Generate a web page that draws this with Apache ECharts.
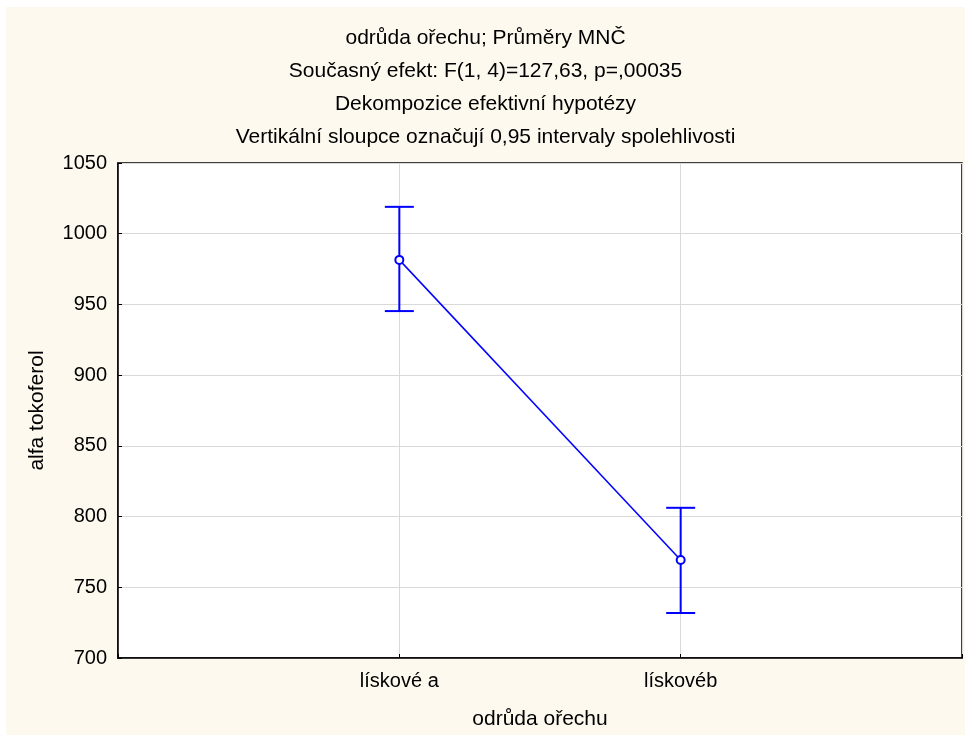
<!DOCTYPE html>
<html>
<head>
<meta charset="utf-8">
<script src="https://cdn.jsdelivr.net/npm/echarts@6/dist/echarts.min.js"></script>
<style>
html,body{margin:0;padding:0;background:#ffffff;}
#main{width:971px;height:742px;}
</style>
</head>
<body>
<div id="main"></div>
<script>
var categories = ['', 'lískové a', 'lískovéb', ''];
var means = [null, 981.5, 769.3, null];
var lower = [null, 945.3, 731.8, null];
var upper = [null, 1019.0, 806.2, null];
var yTicks = [700, 750, 800, 850, 900, 950, 1000, 1050];

var titleLines = [
  'odrůda ořechu; Průměry MNČ',
  'Současný efekt: F(1, 4)=127,63, p=,00035',
  'Dekompozice efektivní hypotézy',
  'Vertikální sloupce označují 0,95 intervaly spolehlivosti'
];

var errData = [];
for (var i = 0; i < categories.length; i++) {
  if (means[i] != null) errData.push([i, lower[i], upper[i]]);
}

var chart = echarts.init(document.getElementById('main'), null, {renderer: 'canvas'});
var font = 'Liberation Sans, Arial, sans-serif';
var blue = '#0000ff';

chart.setOption({
  animation: false,
  backgroundColor: '#ffffff',
  graphic: [
    {type: 'rect', z: -10, silent: true, shape: {x: 6, y: 7, width: 959, height: 728}, style: {fill: '#fdf9ef'}}
  ],
  title: {
    text: titleLines.join('\n'),
    left: 'center',
    top: 17,
    textStyle: {fontFamily: font, fontSize: 21, fontWeight: 'normal', color: '#000', lineHeight: 33}
  },
  grid: {
    left: 118, right: 9, top: 163, bottom: 84,
    show: true, backgroundColor: '#ffffff', borderColor: '#000', borderWidth: 1.5
  },
  xAxis: {
    type: 'category',
    data: categories,
    boundaryGap: false,
    name: 'odrůda ořechu',
    nameLocation: 'middle',
    nameGap: 51,
    nameTextStyle: {fontFamily: font, fontSize: 21, color: '#000'},
    axisLine: {lineStyle: {color: '#000', width: 1.5}},
    axisTick: {show: true, inside: true, length: 4, lineStyle: {color: '#000'}, alignWithLabel: true},
    axisLabel: {fontFamily: font, fontSize: 20, color: '#000', margin: 13, interval: 0},
    splitLine: {show: true, lineStyle: {color: '#d9d9d9', width: 1}}
  },
  yAxis: {
    type: 'value',
    min: yTicks[0],
    max: yTicks[yTicks.length - 1],
    interval: 50,
    name: 'alfa tokoferol',
    nameLocation: 'middle',
    nameGap: 70,
    nameRotate: 90,
    nameTextStyle: {fontFamily: font, fontSize: 21, color: '#000'},
    axisLine: {show: true, lineStyle: {color: '#000', width: 1.5}},
    axisTick: {show: true, inside: true, length: 4, lineStyle: {color: '#000'}},
    axisLabel: {fontFamily: font, fontSize: 20, color: '#000', margin: 11, formatter: function (v) { return String(v); }},
    splitLine: {show: true, lineStyle: {color: '#d9d9d9', width: 1}}
  },
  series: [
    {
      type: 'line',
      data: means,
      connectNulls: false,
      symbol: 'emptyCircle',
      symbolSize: 8,
      z: 5,
      lineStyle: {color: blue, width: 1.5},
      itemStyle: {color: blue, borderColor: blue, borderWidth: 1.5}
    },
    {
      type: 'custom',
      data: errData,
      z: 4,
      renderItem: function (params, api) {
        var x = api.value(0);
        var lo = api.coord([x, api.value(1)]);
        var hi = api.coord([x, api.value(2)]);
        var hw = 14.5;
        var st = {stroke: blue, lineWidth: 2};
        return {
          type: 'group',
          children: [
            {type: 'line', shape: {x1: lo[0], y1: lo[1], x2: hi[0], y2: hi[1]}, style: st},
            {type: 'line', shape: {x1: lo[0] - hw, y1: lo[1], x2: lo[0] + hw, y2: lo[1]}, style: st},
            {type: 'line', shape: {x1: hi[0] - hw, y1: hi[1], x2: hi[0] + hw, y2: hi[1]}, style: st}
          ]
        };
      }
    }
  ]
});
</script>
</body>
</html>
